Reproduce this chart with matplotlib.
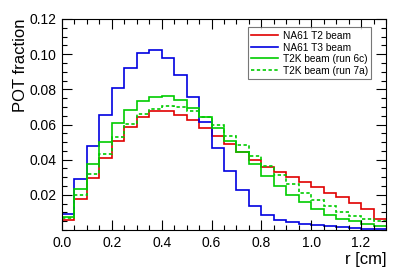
import matplotlib
matplotlib.use('Agg')
import matplotlib.pyplot as plt
import numpy as np
from matplotlib.ticker import MultipleLocator, FixedLocator, FixedFormatter

# beam profile histograms, 26 bins of 0.05 cm
edges = np.arange(27) * 0.05

na61_t2 = [0.0058, 0.0177, 0.0297, 0.0410, 0.0505, 0.0585, 0.0645, 0.0674, 0.0679,
           0.0655, 0.0625, 0.0578, 0.0532, 0.0488, 0.0443, 0.0399, 0.0361, 0.0328,
           0.0302, 0.0272, 0.0242, 0.0213, 0.0185, 0.0156, 0.0121, 0.0062]
na61_t3 = [0.0092, 0.0288, 0.0479, 0.0655, 0.0805, 0.0922, 0.1005, 0.1022, 0.0981,
           0.0879, 0.0755, 0.0613, 0.0469, 0.0335, 0.0227, 0.0139, 0.0086, 0.0058,
           0.0045, 0.0035, 0.0028, 0.0022, 0.0016, 0.0012, 0.0007, 0.0005]
t2k_6c = [0.0075, 0.0232, 0.0375, 0.0503, 0.0607, 0.0683, 0.0736, 0.0759, 0.0762,
          0.0737, 0.0696, 0.0643, 0.0580, 0.0509, 0.0443, 0.0376, 0.0308, 0.0253,
          0.0199, 0.0160, 0.0119, 0.0088, 0.0065, 0.0049, 0.0033, 0.0024]
t2k_7a = [0.0067, 0.0197, 0.0321, 0.0434, 0.0527, 0.0605, 0.0660, 0.0690, 0.0705,
          0.0699, 0.0677, 0.0640, 0.0596, 0.0537, 0.0484, 0.0422, 0.0363, 0.0310,
          0.0260, 0.0213, 0.0168, 0.0134, 0.0105, 0.0081, 0.0062, 0.0050]

x_ticks = [0.0, 0.2, 0.4, 0.6, 0.8, 1.0, 1.2]
y_ticks = [0.02, 0.04, 0.06, 0.08, 0.10, 0.12]

plt.rcParams['font.family'] = ['Liberation Sans', 'DejaVu Sans']

fig = plt.figure(figsize=(4.15, 2.68), dpi=100)
ax = fig.add_axes([62 / 415, 1 - 230 / 268, 324 / 415, 211 / 268])

lw = 1.2
ax.stairs(na61_t2, edges, baseline=None, color='#e00000', lw=lw, label='NA61 T2 beam')
ax.stairs(na61_t3, edges, baseline=None, color='#0000e0', lw=lw, label='NA61 T3 beam')
ax.stairs(t2k_6c, edges, baseline=None, color='#00cc00', lw=lw, label='T2K beam (run 6c)')
ax.stairs(t2k_7a, edges, baseline=None, color='#00cc00', lw=lw, ls=(0, (2, 1.5)),
          label='T2K beam (run 7a)')

ax.set_xlim(0, 1.3)
ax.set_ylim(0, 0.12)

ax.xaxis.set_major_locator(FixedLocator(x_ticks))
ax.xaxis.set_major_formatter(FixedFormatter(['%.1f' % v for v in x_ticks]))
ax.xaxis.set_minor_locator(MultipleLocator(0.05))
ax.yaxis.set_major_locator(FixedLocator(y_ticks))
ax.yaxis.set_major_formatter(FixedFormatter(['%.2f' % v for v in y_ticks]))
ax.yaxis.set_minor_locator(MultipleLocator(0.005))

ax.tick_params(which='both', direction='in', top=True, right=True, labelsize=10, width=0.8)
ax.tick_params(which='major', length=7, pad=4)
ax.tick_params(which='minor', length=3.5)
for s in ax.spines.values():
    s.set_linewidth(0.8)

ax.set_xlabel('r [cm]', fontsize=12, loc='right', labelpad=2)
ax.set_ylabel('POT fraction', fontsize=12, loc='top', labelpad=1)

leg = ax.legend(loc='upper right', bbox_to_anchor=(0.955, 0.96), fontsize=7.3,
                frameon=True, fancybox=False, handlelength=2.6, handletextpad=0.5,
                borderpad=0.35, labelspacing=0.15, borderaxespad=0)
leg.get_frame().set_edgecolor('#555555')
leg.get_frame().set_linewidth(0.8)

fig.savefig('out.png', dpi=100)
